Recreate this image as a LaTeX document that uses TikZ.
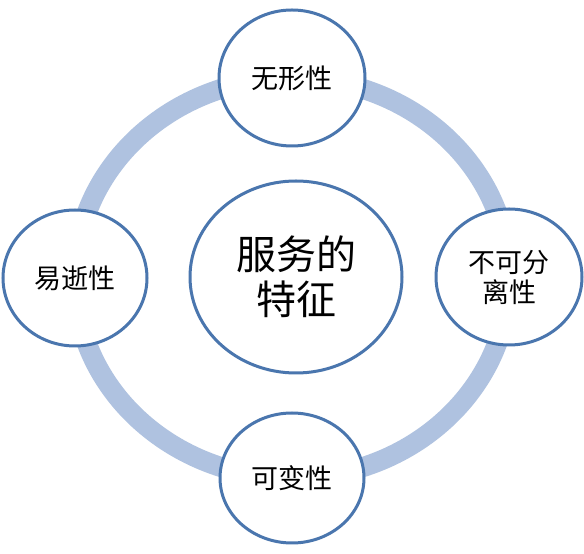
\documentclass[tikz,border=0pt]{standalone}
\usepackage{fontspec}
\newfontfamily\cjk{Noto Sans CJK SC}
\usetikzlibrary{shapes.geometric}
\definecolor{ringblue}{HTML}{AFC2E0}
\definecolor{edgeblue}{HTML}{4A76AE}
\begin{document}
\begin{tikzpicture}[x=1pt,y=1pt,
  bubble/.style={ellipse, draw=edgeblue, line width=3pt, fill=white, inner sep=0pt,
    font=\cjk\fontsize{27}{30}\selectfont, align=center, text=black}]
\useasboundingbox (0,0) rectangle (584,554);
\fill[white] (0,0) rectangle (584,554);
\draw[ringblue, line width=20pt] (292,276) ellipse [x radius=217, y radius=200];
\node[bubble, minimum width=212pt, minimum height=192pt, font=\cjk\fontsize{40}{45}\selectfont] (c) at (296,277) {服务的\\特征};
\node[bubble, minimum width=146pt, minimum height=136pt] (t) at (292,476) {无形性};
\node[bubble, minimum width=144pt, minimum height=136pt] (l) at (75,276) {易逝性};
\node[bubble, minimum width=146pt, minimum height=136pt] (r) at (509,277) {不可分\\离性};
\node[bubble, minimum width=144pt, minimum height=130pt] (b) at (292,76) {可变性};
\end{tikzpicture}
\end{document}
